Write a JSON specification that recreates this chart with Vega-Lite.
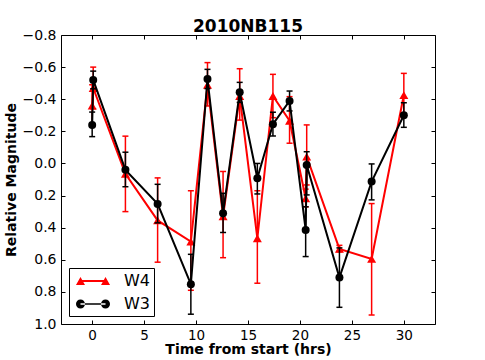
{
  "$schema": "https://vega.github.io/schema/vega-lite/v6.json",
  "width": 374,
  "height": 289,
  "autosize": {"type": "none"},
  "padding": {"left": 61, "top": 35, "right": 50, "bottom": 36},
  "title": {"text": "2010NB115", "font": "DejaVu Sans", "fontSize": 17, "fontWeight": "bold", "color": "black", "anchor": "middle", "offset": -8},
  "data": {"values": [
    {"s": "W4", "t": 0.0, "m": -0.36, "lo": -0.49, "hi": -0.23},
    {"s": "W4", "t": 0.1, "m": -0.47, "lo": -0.6, "hi": -0.34},
    {"s": "W4", "t": 3.2, "m": 0.065, "lo": -0.17, "hi": 0.3},
    {"s": "W4", "t": 6.3, "m": 0.355, "lo": 0.09, "hi": 0.615},
    {"s": "W4", "t": 9.5, "m": 0.487, "lo": 0.17, "hi": 0.79},
    {"s": "W4", "t": 11.1, "m": -0.49, "lo": -0.628, "hi": -0.358},
    {"s": "W4", "t": 12.6, "m": 0.33, "lo": 0.05, "hi": 0.587},
    {"s": "W4", "t": 14.2, "m": -0.42, "lo": -0.59, "hi": -0.27},
    {"s": "W4", "t": 15.9, "m": 0.466, "lo": 0.17, "hi": 0.746},
    {"s": "W4", "t": 17.4, "m": -0.42, "lo": -0.555, "hi": -0.285},
    {"s": "W4", "t": 19.0, "m": -0.266, "lo": -0.416, "hi": -0.126},
    {"s": "W4", "t": 20.55, "m": 0.217, "lo": 0.16, "hi": 0.27},
    {"s": "W4", "t": 20.65, "m": -0.042, "lo": -0.24, "hi": 0.134},
    {"s": "W4", "t": 23.8, "m": 0.532, "lo": 0.51, "hi": 0.55},
    {"s": "W4", "t": 26.9, "m": 0.595, "lo": 0.25, "hi": 0.944},
    {"s": "W4", "t": 30.0, "m": -0.426, "lo": -0.561, "hi": -0.291},
    {"s": "W3", "t": 0.0, "m": -0.24, "lo": -0.32, "hi": -0.167},
    {"s": "W3", "t": 0.1, "m": -0.52, "lo": -0.575, "hi": -0.465},
    {"s": "W3", "t": 3.2, "m": 0.04, "lo": -0.07, "hi": 0.145},
    {"s": "W3", "t": 6.3, "m": 0.252, "lo": 0.13, "hi": 0.37},
    {"s": "W3", "t": 9.5, "m": 0.752, "lo": 0.566, "hi": 0.939},
    {"s": "W3", "t": 11.1, "m": -0.526, "lo": -0.586, "hi": -0.466},
    {"s": "W3", "t": 12.6, "m": 0.31, "lo": 0.186, "hi": 0.43},
    {"s": "W3", "t": 14.2, "m": -0.443, "lo": -0.505, "hi": -0.38},
    {"s": "W3", "t": 15.9, "m": 0.092, "lo": 0.0, "hi": 0.19},
    {"s": "W3", "t": 17.4, "m": -0.244, "lo": -0.319, "hi": -0.171},
    {"s": "W3", "t": 19.0, "m": -0.389, "lo": -0.451, "hi": -0.327},
    {"s": "W3", "t": 20.55, "m": 0.414, "lo": 0.27, "hi": 0.58},
    {"s": "W3", "t": 20.65, "m": 0.01, "lo": -0.073, "hi": 0.196},
    {"s": "W3", "t": 23.8, "m": 0.711, "lo": 0.526, "hi": 0.896},
    {"s": "W3", "t": 26.9, "m": 0.113, "lo": 0.003, "hi": 0.227},
    {"s": "W3", "t": 30.0, "m": -0.3, "lo": -0.378, "hi": -0.225}
  ]},
  "resolve": {"axis": {"x": "independent", "y": "independent"}},
  "layer": [
    {
      "transform": [{"filter": "datum.s === 'W4'"}],
      "mark": {"type": "rule", "color": "#ff0000", "strokeWidth": 1.5},
      "encoding": {
        "x": {"field": "t", "type": "quantitative", "scale": {"domain": [-3, 33], "nice": false, "zero": false},
          "axis": {"orient": "bottom", "title": "Time from start (hrs)", "values": [0, 5, 10, 15, 20, 25, 30], "tickSize": -4, "labelFontSize": 13.5, "labelPadding": 8, "domain": false, "titlePadding": 1}},
        "y": {"field": "lo", "type": "quantitative", "scale": {"domain": [-0.8, 1.0], "reverse": true, "nice": false, "zero": false},
          "axis": {"orient": "left", "title": "Relative Magnitude", "values": [-0.8, -0.6, -0.4, -0.2, 0, 0.2, 0.4, 0.6, 0.8, 1.0], "format": ".1f", "tickSize": -4, "labelPadding": 9, "domain": false, "titlePadding": 4}},
        "y2": {"field": "hi"}
      }
    },
    {
      "transform": [{"filter": "datum.s === 'W4'"}],
      "mark": {"type": "tick", "orient": "horizontal", "color": "#ff0000", "size": 6, "thickness": 1.5, "opacity": 1},
      "encoding": {
        "x": {"field": "t", "type": "quantitative", "axis": null},
        "y": {"field": "lo", "type": "quantitative", "axis": null}
      }
    },
    {
      "transform": [{"filter": "datum.s === 'W4'"}],
      "mark": {"type": "tick", "orient": "horizontal", "color": "#ff0000", "size": 6, "thickness": 1.5, "opacity": 1},
      "encoding": {
        "x": {"field": "t", "type": "quantitative", "axis": null},
        "y": {"field": "hi", "type": "quantitative", "axis": null}
      }
    },
    {
      "transform": [{"filter": "datum.s === 'W4'"}],
      "mark": {"type": "line", "color": "#ff0000", "strokeWidth": 2},
      "encoding": {
        "x": {"field": "t", "type": "quantitative", "axis": null},
        "y": {"field": "m", "type": "quantitative", "axis": null}
      }
    },
    {
      "transform": [{"filter": "datum.s === 'W4'"}],
      "mark": {"type": "point", "shape": "triangle-up", "filled": true, "color": "#ff0000", "size": 81, "opacity": 1},
      "encoding": {
        "x": {"field": "t", "type": "quantitative", "axis": null},
        "y": {"field": "m", "type": "quantitative", "axis": null}
      }
    },
    {
      "transform": [{"filter": "datum.s === 'W3'"}],
      "mark": {"type": "rule", "color": "#000000", "strokeWidth": 1.5},
      "encoding": {
        "x": {"field": "t", "type": "quantitative", "axis": null},
        "y": {"field": "lo", "type": "quantitative", "axis": null},
        "y2": {"field": "hi"}
      }
    },
    {
      "transform": [{"filter": "datum.s === 'W3'"}],
      "mark": {"type": "tick", "orient": "horizontal", "color": "#000000", "size": 6, "thickness": 1.5, "opacity": 1},
      "encoding": {
        "x": {"field": "t", "type": "quantitative", "axis": null},
        "y": {"field": "lo", "type": "quantitative", "axis": null}
      }
    },
    {
      "transform": [{"filter": "datum.s === 'W3'"}],
      "mark": {"type": "tick", "orient": "horizontal", "color": "#000000", "size": 6, "thickness": 1.5, "opacity": 1},
      "encoding": {
        "x": {"field": "t", "type": "quantitative", "axis": null},
        "y": {"field": "hi", "type": "quantitative", "axis": null}
      }
    },
    {
      "transform": [{"filter": "datum.s === 'W3'"}],
      "mark": {"type": "line", "color": "#000000", "strokeWidth": 2},
      "encoding": {
        "x": {"field": "t", "type": "quantitative", "axis": null},
        "y": {"field": "m", "type": "quantitative", "axis": null}
      }
    },
    {
      "transform": [{"filter": "datum.s === 'W3'"}],
      "mark": {"type": "point", "shape": "circle", "filled": true, "color": "#000000", "size": 64, "opacity": 1},
      "encoding": {
        "x": {"field": "t", "type": "quantitative", "axis": null},
        "y": {"field": "m", "type": "quantitative", "axis": null}
      }
    },
    {
      "transform": [{"filter": "datum.t > 1000"}],
      "mark": {"type": "point", "filled": true, "size": 324, "opacity": 1},
      "encoding": {
        "x": {"field": "t", "type": "quantitative",
          "axis": {"orient": "top", "labels": false, "title": null, "values": [0, 5, 10, 15, 20, 25, 30], "tickSize": -4, "domain": false}},
        "y": {"field": "m", "type": "quantitative",
          "axis": {"orient": "right", "labels": false, "title": null, "values": [-0.8, -0.6, -0.4, -0.2, 0, 0.2, 0.4, 0.6, 0.8, 1.0], "tickSize": -4, "domain": false}},
        "color": {"field": "s", "type": "nominal", "scale": {"domain": ["W4", "W3"], "range": ["#ff0000", "#000000"]},
          "legend": {"title": null, "orient": "bottom-left", "offset": 8, "padding": 4, "strokeColor": "black", "fillColor": "white", "labelFont": "DejaVu Sans", "labelFontSize": 16, "labelColor": "black", "symbolSize": 324, "symbolStrokeWidth": 0, "symbolOffset": 11, "labelOffset": 22, "rowPadding": 6, "cornerRadius": 0,
            "encode": {"symbols": {"update": {"fill": {"scale": "color", "field": "value"}, "opacity": {"value": 1}}}}}},
        "shape": {"field": "s", "type": "nominal", "scale": {"domain": ["W4", "W3"], "range": [
          "M-1.39,-0.11L1.39,-0.11L1.39,0.11L-1.39,0.11ZM-1.89,0.44L-1.39,-0.44L-0.89,0.44ZM0.89,0.44L1.39,-0.44L1.89,0.44Z",
          "M-1.39,-0.08L1.39,-0.08L1.39,0.08L-1.39,0.08ZM-1.89,0A0.5,0.5,0,1,0,-0.89,0A0.5,0.5,0,1,0,-1.89,0ZM0.89,0A0.5,0.5,0,1,0,1.89,0A0.5,0.5,0,1,0,0.89,0Z"
        ]},
          "legend": {"title": null}}
      }
    }
  ],
  "config": {
    "view": {"stroke": "black", "strokeWidth": 1},
    "axis": {"labelFont": "DejaVu Sans", "labelFontSize": 14, "titleFont": "DejaVu Sans", "titleFontSize": 14, "titleFontWeight": "bold", "labelColor": "black", "titleColor": "black", "tickColor": "black", "tickWidth": 1, "grid": false}
  }
}
